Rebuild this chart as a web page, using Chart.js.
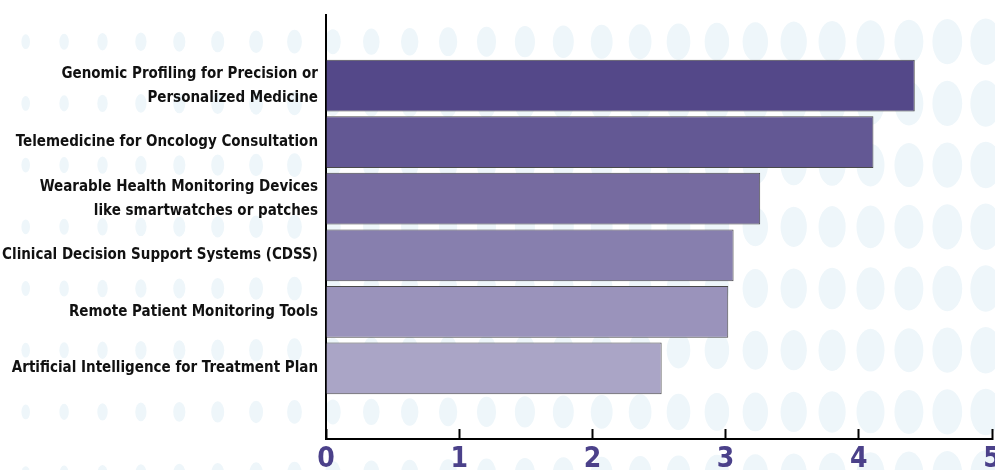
<!DOCTYPE html>
<html>
<head>
<meta charset="utf-8">
<script src="https://cdn.jsdelivr.net/npm/chart.js@4/dist/chart.umd.min.js"></script>
<style>
  html, body { margin: 0; padding: 0; background: #fff; overflow: hidden; }
  #wrap { width: 1010px; height: 480px; }
</style>
</head>
<body>
<div id="wrap"><canvas id="chart"></canvas></div>
<script>
const categories = [
  ['Genomic Profiling for Precision or', 'Personalized Medicine'],
  'Telemedicine for Oncology Consultation',
  ['Wearable Health Monitoring Devices', 'like smartwatches or patches'],
  'Clinical Decision Support Systems (CDSS)',
  'Remote Patient Monitoring Tools',
  'Artificial Intelligence for Treatment Plan',
];
const scores = [4.42, 4.11, 3.26, 3.06, 3.02, 2.52];
const barColors = ['#544889', '#635894', '#766ba0', '#877fae', '#9a93bb', '#aaa5c6'];
const xTicks = [0, 1, 2, 3, 4, 5];

const narrow = "'Liberation Sans Narrow', 'DejaVu Sans Condensed', sans-serif";

// light blue dotted backdrop, dots grow toward the right
const dots = {
  id: 'dots',
  beforeDraw(chart) {
    const ctx = chart.ctx;
    ctx.save();
    ctx.fillStyle = '#eef6fa';
    for (let r = 0; r < 8; r++) {
      const y = 41.7 + r * 61.7;
      for (let k = 0; k < 27; k++) {
        const x = 25.7 + k * 38.4;
        ctx.beginPath();
        ctx.ellipse(x, y, 4 + x * 0.0115, 7 + x * 0.0165, 0, 0, Math.PI * 2);
        ctx.fill();
      }
    }
    ctx.restore();
  }
};

new Chart(document.getElementById('chart'), {
  type: 'bar',
  data: {
    datasets: [{
      data: scores.map((v, i) => ({ x: v, y: i })),
      backgroundColor: barColors,
      borderColor: '#4a4a4a',
      borderWidth: 1,
      categoryPercentage: 1,
      barPercentage: 0.915,
    }],
  },
  options: {
    indexAxis: 'y',
    responsive: true,
    maintainAspectRatio: false,
    animation: false,
    layout: { padding: { top: 15, right: 18, left: 0, bottom: 0 } },
    plugins: { legend: { display: false }, tooltip: { enabled: false } },
    scales: {
      y: {
        type: 'linear',
        offset: false,
        min: -1.25,
        max: 6.25,
        reverse: true,
        afterBuildTicks: s => { s.ticks = categories.map((_, i) => ({ value: i })); },
        afterFit: s => { s.width = 326; s.paddingTop = 0; s.paddingBottom = 0; },
        grid: { display: false, drawTicks: false },
        border: { display: true, color: '#000', width: 2 },
        ticks: {
          padding: 8,
          color: '#111',
          font: { family: narrow, size: 15, weight: 'bold', lineHeight: 1.6 },
          callback: v => categories[v],
        },
      },
      x: {
        min: 0,
        max: 5,
        afterBuildTicks: s => { s.ticks = xTicks.map(v => ({ value: v })); },
        afterFit: s => { s.height = 41; s.paddingLeft = 0; s.paddingRight = 0; },
        grid: { drawOnChartArea: false, tickLength: -10, tickWidth: 2, tickColor: '#000' },
        border: { display: true, color: '#000', width: 2 },
        ticks: {
          padding: 14,
          color: '#4b418a',
          font: { family: narrow, size: 28, weight: 'bold' },
        },
      },
    },
  },
  plugins: [dots],
});
</script>
</body>
</html>
